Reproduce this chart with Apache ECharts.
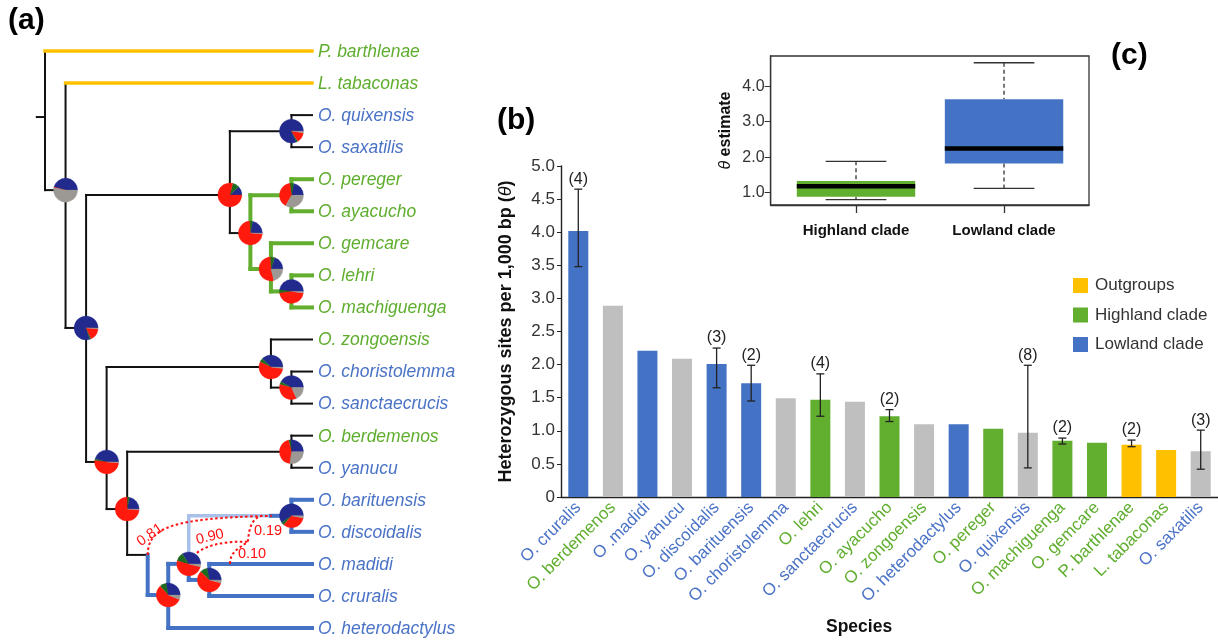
<!DOCTYPE html>
<html><head><meta charset="utf-8">
<script src="https://cdn.jsdelivr.net/npm/echarts@6/dist/echarts.min.js"></script>
<style>html,body{margin:0;padding:0;background:#fff}#c{width:1218px;height:640px}</style>
</head><body><div id="c"></div>
<script>
// ================= (b) bar chart data =================
const species = ['O. cruralis','O. berdemenos','O .madidi','O. yanucu','O. discoidalis','O. barituensis','O. choristolemma','O. lehri','O. sanctaecrucis','O. ayacucho','O. zongoensis','O. heterodactylus','O. pereger','O. quixensis','O. machiguenga','O. gemcare','P. barthlenae','L. tabaconas','O. saxatilis'];
const thetaValues = [4.02,2.89,2.21,2.09,2.01,1.72,1.49,1.47,1.44,1.22,1.10,1.10,1.03,0.97,0.85,0.82,0.79,0.71,0.69];
const barGroup = ['lowland','other','lowland','other','lowland','lowland','other','highland','other','highland','other','lowland','highland','other','highland','highland','outgroup','outgroup','other'];
const labelClade = ['L','H','L','L','L','L','L','H','L','H','H','L','H','L','H','H','H','H','L'];
const errLow  = [3.48,null,null,null,1.65,1.45,null,1.22,null,1.14,null,null,null,0.44,0.80,null,0.76,null,0.42];
const errHigh = [4.65,null,null,null,2.25,1.99,null,1.86,null,1.32,null,null,null,1.99,0.89,null,0.86,null,1.01];
const sampleN = [4,null,null,null,3,2,null,4,null,2,null,null,null,8,2,null,2,null,3];
const legendNames = ['Outgroups','Highland clade','Lowland clade'];
const legendGroups = ['outgroup','highland','lowland'];

// ================= (c) box plot data =================
const boxCategories = ['Highland clade','Lowland clade'];
const boxGroups = ['highland','lowland'];
const boxMin    = [0.80, 1.12];
const boxQ1     = [0.88, 1.82];
const boxMedian = [1.18, 2.24];
const boxQ3     = [1.33, 3.63];
const boxMax    = [1.88, 4.66];
const boxTicks  = [1, 2, 3, 4];

// ================= (a) tree data =================
// level: steps from root (leaves = 13); row: leaf row (0 = top)
const treeNames  = ['root','P. barthlenae','N1','L. tabaconas','N2','NA','Nqs','O. quixensis','O. saxatilis','NB','Npa','O. pereger','O. ayacucho','NC','O. gemcare','Nlm','O. lehri','O. machiguenga','N4','Nzcs','O. zongoensis','Ncs','O. choristolemma','O. sanctaecrucis','N5','Nby','O. berdemenos','O. yanucu','N6','N7','N8','Nbdj','Nbd','O. barituensis','O. discoidalis','N9','O. madidi','O. cruralis','O. heterodactylus'];
const treeLevel  = [0,13,1,13,2,9,12,13,13,10,12,13,13,11,13,12,13,13,3,11,13,12,13,13,4,12,13,13,5,6,7,11,12,13,13,8,13,13,13];
const treeRow    = [2.06,0,4.34,1,8.64,4.49,2.5,2,3,5.68,4.5,4,5,6.8,6,7.5,7,8,12.82,9.86,9,10.5,10,11,14.29,12.5,12,13,15.72,16.97,16,14.5,14.5,14,15,16.5,16,17,18];
const treeParent = [-1,0,0,2,2,4,5,6,6,5,9,10,10,9,13,13,15,15,4,18,19,19,21,21,18,24,25,25,24,28,29,30,31,32,32,30,35,35,29];
const edgeVert   = ['k','k','k','k','k','k','k','k','k','k','h','h','h','h','h','h','h','h','k','k','k','k','k','k','k','k','k','k','k','l','l','ll','l','l','l','l','l','l','l'];
const edgeHorz   = ['k','o','k','o','k','k','k','k','k','k','h','h','h','h','h','h','h','h','k','k','k','k','k','k','k','k','k','k','k','l','l','ll','l','l','l','l','l','l','l'];
const leafClade  = {'P. barthlenae':'H','L. tabaconas':'H','O. quixensis':'L','O. saxatilis':'L','O. pereger':'H','O. ayacucho':'H','O. gemcare':'H','O. lehri':'H','O. machiguenga':'H','O. zongoensis':'H','O. choristolemma':'L','O. sanctaecrucis':'L','O. berdemenos':'H','O. yanucu':'L','O. barituensis':'L','O. discoidalis':'L','O. madidi':'L','O. cruralis':'L','O. heterodactylus':'L'};
const stemLevel = -0.4;

// ancestral-state pies: node index, proportions [navy, green, red, grey]
const pieNodes = [2,4,5,6,9,10,13,15,18,19,21,24,25,29,30,32,35];
const pieNavy  = [0.46,0.80,0.12,0.82,0.22,0.22,0.20,0.48,0.46,0.38,0.42,0.22,0.26,0.28,0.34,0.60,0.28];
const pieGreen = [0.00,0.02,0.09,0.02,0.04,0.05,0.06,0.04,0.02,0.05,0.04,0.03,0.03,0.09,0.12,0.04,0.10];
const pieRed   = [0.01,0.17,0.79,0.14,0.73,0.40,0.53,0.46,0.51,0.55,0.36,0.74,0.44,0.57,0.50,0.33,0.58];
const pieGrey  = [0.53,0.01,0.00,0.02,0.01,0.33,0.21,0.02,0.01,0.02,0.18,0.01,0.27,0.06,0.04,0.03,0.04];

// reticulation curves (tree units): start, control1, control2, end
const reticCurves = [
  [5.00,15.72, 5.01,14.88, 6.09,14.57, 11.05,14.50],
  [7.06,15.88, 7.55,15.41, 8.76,15.28, 9.88,15.31],
  [9.88,15.31, 9.93,14.88, 10.08,14.57, 10.56,14.50],
  [9.01,16.00, 9.01,15.63, 9.40,15.53, 9.88,15.31]
];
const reticLabels = ['0.81','0.90','0.19','0.10'];
const reticLabelPos = [[5.11,15.1],[8.03,15.16],[10.86,14.97],[10.08,15.69]];
const reticLabelAngle = [35,14,0,0];

// ================= styles =================
const FONT = '"Liberation Sans", Arial, Helvetica, sans-serif';
const COL = {blue:'#4472C4', grey:'#BFBFBF', green:'#62AE2F', yellow:'#FFC000'};
const groupColor = {lowland:COL.blue, highland:COL.green, outgroup:COL.yellow, other:COL.grey};
const textColor = {H:'#5FAE2E', L:'#4A72C6'};
const edgeStyle = {k:{c:'#111',w:2}, o:{c:'#FFC000',w:3.5}, h:{c:'#62AE2F',w:4}, l:{c:'#4472C4',w:4}, ll:{c:'#A9C0E8',w:3.5}};
const pieColors = ['#222A8E','#1D6B1F','#FF1A0D','#9C9893'];

// ---- build tree segments
const segData = [], segKey = [];
segData.push([stemLevel, treeRow[0], treeLevel[0], treeRow[0]]); segKey.push('k');
const order = ['k','ll','o','h','l'];
order.forEach(key => {
  for (let i = 0; i < treeNames.length; i++) {
    const p = treeParent[i]; if (p < 0) continue;
    if (edgeVert[i] === key) { segData.push([treeLevel[p], treeRow[p], treeLevel[p], treeRow[i]]); segKey.push(key); }
    if (edgeHorz[i] === key) { segData.push([treeLevel[p], treeRow[i], treeLevel[i], treeRow[i]]); segKey.push(key); }
  }
});
const leafData = [], leafName = [];
treeNames.forEach((n,i)=>{ if (treeLevel[i] === 13) { leafData.push([treeLevel[i], treeRow[i]]); leafName.push(n);} });
const pieData = pieNodes.map(n => [treeLevel[n], treeRow[n]]);

const errData = [];
species.forEach((s,i)=>{ if (errLow[i] != null) errData.push([i, errLow[i], errHigh[i], sampleN[i]]); });

const boxData = boxCategories.map((c,i)=>[i+1, boxMin[i], boxQ1[i], boxMedian[i], boxQ3[i], boxMax[i]]);

const chart = echarts.init(document.getElementById('c'), null, {renderer:'canvas'});
const option = {
  animation:false,
  backgroundColor:'#fff',
  textStyle:{fontFamily:FONT},
  legend:{
    orient:'vertical', left:1073, top:277, padding:0, itemWidth:15, itemHeight:15, itemGap:12.5,
    icon:'rect', selectedMode:false,
    textStyle:{fontSize:17, color:'#333', fontFamily:FONT, padding:[0,0,0,2]},
    data:legendNames
  },
  grid:[
    {left:36.8, top:51, width:275.2, height:577},
    {left:561, top:166, width:661, height:331},
    {left:770.6, top:56, width:318.4, height:149, show:true, borderColor:'#333', borderWidth:1.3, backgroundColor:'rgba(0,0,0,0)'}
  ],
  xAxis:[
    {gridIndex:0, type:'value', min:stemLevel, max:13, show:false},
    {gridIndex:1, type:'category', data:species,
      axisLine:{lineStyle:{color:'#222', width:1.4}},
      axisTick:{alignWithLabel:true, length:5, lineStyle:{color:'#222'}},
      axisLabel:{rotate:45, interval:0, margin:8,
        formatter:(v,idx)=>'{'+labelClade[idx]+'|'+v+'}',
        rich:{H:{color:textColor.H, fontSize:17, fontFamily:FONT}, L:{color:textColor.L, fontSize:17, fontFamily:FONT}}}
    },
    {gridIndex:2, type:'value', min:0.423, max:2.574,
      axisLine:{show:true, lineStyle:{color:'#333', width:1.3}},
      axisTick:{show:true, customValues:[1,2], length:8, lineStyle:{color:'#333', width:1.3}},
      axisLabel:{customValues:[1,2], formatter:v=>boxCategories[Math.round(v)-1], fontWeight:'bold', fontSize:15, color:'#111', margin:18},
      splitLine:{show:false}}
  ],
  yAxis:[
    {gridIndex:0, type:'value', min:0, max:18, inverse:true, show:false},
    {gridIndex:1, type:'value', min:0, max:5, interval:0.5,
      name:'Heterozygous sites per 1,000 bp ({i|θ})', nameLocation:'middle', nameGap:46,
      nameTextStyle:{fontWeight:'bold', fontSize:18, color:'#111', rich:{i:{fontStyle:'italic', fontWeight:'normal', fontSize:18, color:'#111'}}},
      axisLine:{show:true, lineStyle:{color:'#222', width:1.4}},
      axisTick:{show:true, length:4, lineStyle:{color:'#222'}},
      splitLine:{show:false},
      axisLabel:{fontSize:17, color:'#333', margin:6, formatter:v=>v===0?'0':v.toFixed(1)}},
    {gridIndex:2, type:'value', min:0.65, max:4.85,
      name:'{i|θ} estimate', nameLocation:'middle', nameGap:37,
      nameTextStyle:{fontWeight:'bold', fontSize:16, color:'#111', rich:{i:{fontStyle:'italic', fontWeight:'normal', fontSize:16, color:'#111'}}},
      axisLine:{show:true, lineStyle:{color:'#333', width:1.3}},
      axisTick:{show:true, customValues:boxTicks, length:6, lineStyle:{color:'#333'}},
      axisLabel:{customValues:boxTicks, formatter:v=>v.toFixed(1), fontSize:16, color:'#333', margin:6},
      splitLine:{show:false}}
  ],
  graphic:[
    {type:'text', left:8, top:6, style:{text:'(a)', font:'bold 30px '+FONT, fill:'#000'}},
    {type:'text', left:497, top:106, style:{text:'(b)', font:'bold 30px '+FONT, fill:'#000'}},
    {type:'text', left:1111, top:41, style:{text:'(c)', font:'bold 30px '+FONT, fill:'#000'}},
    {type:'text', left:826, top:618, style:{text:'Species', font:'bold 17.5px '+FONT, fill:'#111'}}
  ],
  series:[
    // ---- tree edges
    {type:'custom', xAxisIndex:0, yAxisIndex:0, clip:false, silent:true, data:segData,
      renderItem:(params, api)=>{
        const a = api.coord([api.value(0), api.value(1)]);
        const b = api.coord([api.value(2), api.value(3)]);
        const st = edgeStyle[segKey[params.dataIndex]];
        return {type:'line', shape:{x1:a[0],y1:a[1],x2:b[0],y2:b[1]}, style:{stroke:st.c, lineWidth:st.w, lineCap:'square'}};
      }},
    // ---- reticulation curves
    {type:'custom', xAxisIndex:0, yAxisIndex:0, clip:false, silent:true, data:reticCurves, z:4,
      renderItem:(params, api)=>{
        const p0 = api.coord([api.value(0), api.value(1)]);
        const p1 = api.coord([api.value(2), api.value(3)]);
        const p2 = api.coord([api.value(4), api.value(5)]);
        const p3 = api.coord([api.value(6), api.value(7)]);
        return {type:'bezierCurve', shape:{x1:p0[0],y1:p0[1],cpx1:p1[0],cpy1:p1[1],cpx2:p2[0],cpy2:p2[1],x2:p3[0],y2:p3[1]},
          style:{stroke:'#FF1010', lineWidth:2, lineDash:[2.5,2.5], fill:null}};
      }},
    // ---- pies
    {type:'custom', xAxisIndex:0, yAxisIndex:0, clip:false, silent:true, data:pieData, z:5,
      renderItem:(params, api)=>{
        const c = api.coord([api.value(0), api.value(1)]);
        const k = params.dataIndex;
        const parts = [pieNavy[k], pieGreen[k], pieRed[k], pieGrey[k]];
        const tot = parts.reduce((s,v)=>s+v,0);
        let acc = 0; const children = [];
        parts.forEach((p,j)=>{
          if (p <= 0) return;
          const a0 = acc/tot, a1 = (acc+p)/tot; acc += p;
          children.push({type:'sector', shape:{cx:c[0], cy:c[1], r:12, r0:0, startAngle:-a0*2*Math.PI, endAngle:-a1*2*Math.PI, clockwise:false},
            style:{fill:pieColors[j], stroke:pieColors[j], lineWidth:0.3}});
        });
        return {type:'group', children};
      }},
    // ---- leaf labels
    {type:'custom', xAxisIndex:0, yAxisIndex:0, clip:false, silent:true, data:leafData, z:6,
      renderItem:(params, api)=>{
        const c = api.coord([api.value(0), api.value(1)]);
        const name = leafName[params.dataIndex];
        return {type:'text', x:c[0]+6, y:c[1]+1, style:{text:name, fill:textColor[leafClade[name]], font:'italic 17.5px '+FONT, align:'left', verticalAlign:'middle'}};
      }},
    // ---- reticulation labels
    {type:'custom', xAxisIndex:0, yAxisIndex:0, clip:false, silent:true, data:reticLabelPos, z:6,
      renderItem:(params, api)=>{
        const c = api.coord([api.value(0), api.value(1)]);
        const k = params.dataIndex;
        return {type:'text', x:c[0], y:c[1], rotation:reticLabelAngle[k]*Math.PI/180,
          style:{text:reticLabels[k], fill:'#FF1010', font:'14.5px '+FONT, align:'center', verticalAlign:'middle'}};
      }},
    // ---- bars
    {type:'bar', xAxisIndex:1, yAxisIndex:1, barWidth:20, silent:true,
      data:thetaValues.map((v,i)=>({value:v, itemStyle:{color:groupColor[barGroup[i]]}}))},
    // ---- error bars + sample sizes
    {type:'custom', xAxisIndex:1, yAxisIndex:1, clip:false, silent:true, data:errData, z:5,
      renderItem:(params, api)=>{
        const lo = api.coord([api.value(0), api.value(1)]);
        const hi = api.coord([api.value(0), api.value(2)]);
        const n = api.value(3);
        const st = {stroke:'#222', lineWidth:1.3};
        return {type:'group', children:[
          {type:'line', shape:{x1:lo[0],y1:lo[1],x2:hi[0],y2:hi[1]}, style:st},
          {type:'line', shape:{x1:lo[0]-4,y1:lo[1],x2:lo[0]+4,y2:lo[1]}, style:st},
          {type:'line', shape:{x1:hi[0]-4,y1:hi[1],x2:hi[0]+4,y2:hi[1]}, style:st},
          {type:'text', x:hi[0], y:hi[1]-2, style:{text:'('+n+')', fill:'#222', font:'16px '+FONT, align:'center', verticalAlign:'bottom'}}
        ]};
      }},
    // ---- box plot
    {type:'custom', xAxisIndex:2, yAxisIndex:2, clip:false, silent:true, data:boxData, z:5,
      renderItem:(params, api)=>{
        const x = api.value(0);
        const w = api.size([0.80, 0])[0], cw = api.size([0.41, 0])[0];
        const pMin = api.coord([x, api.value(1)]), pQ1 = api.coord([x, api.value(2)]);
        const pMed = api.coord([x, api.value(3)]), pQ3 = api.coord([x, api.value(4)]);
        const pMax = api.coord([x, api.value(5)]);
        const cx = pMin[0];
        const fill = groupColor[boxGroups[params.dataIndex]];
        const ws = {stroke:'#333', lineWidth:1.3};
        return {type:'group', children:[
          {type:'line', shape:{x1:cx,y1:pMax[1],x2:cx,y2:pQ3[1]}, style:Object.assign({lineDash:[4,3]}, ws)},
          {type:'line', shape:{x1:cx,y1:pQ1[1],x2:cx,y2:pMin[1]}, style:Object.assign({lineDash:[4,3]}, ws)},
          {type:'line', shape:{x1:cx-cw/2,y1:pMax[1],x2:cx+cw/2,y2:pMax[1]}, style:ws},
          {type:'line', shape:{x1:cx-cw/2,y1:pMin[1],x2:cx+cw/2,y2:pMin[1]}, style:ws},
          {type:'rect', shape:{x:cx-w/2, y:pQ3[1], width:w, height:pQ1[1]-pQ3[1]}, style:{fill:fill}},
          {type:'line', shape:{x1:cx-w/2,y1:pMed[1],x2:cx+w/2,y2:pMed[1]}, style:{stroke:'#000', lineWidth:4.5}}
        ]};
      }},
    // ---- legend entries
    ...legendNames.map((n,i)=>({type:'custom', name:n, xAxisIndex:1, yAxisIndex:1, data:[],
      itemStyle:{color:groupColor[legendGroups[i]]}, renderItem:()=>null}))
  ]
};
chart.setOption(option);
</script>
</body></html>
